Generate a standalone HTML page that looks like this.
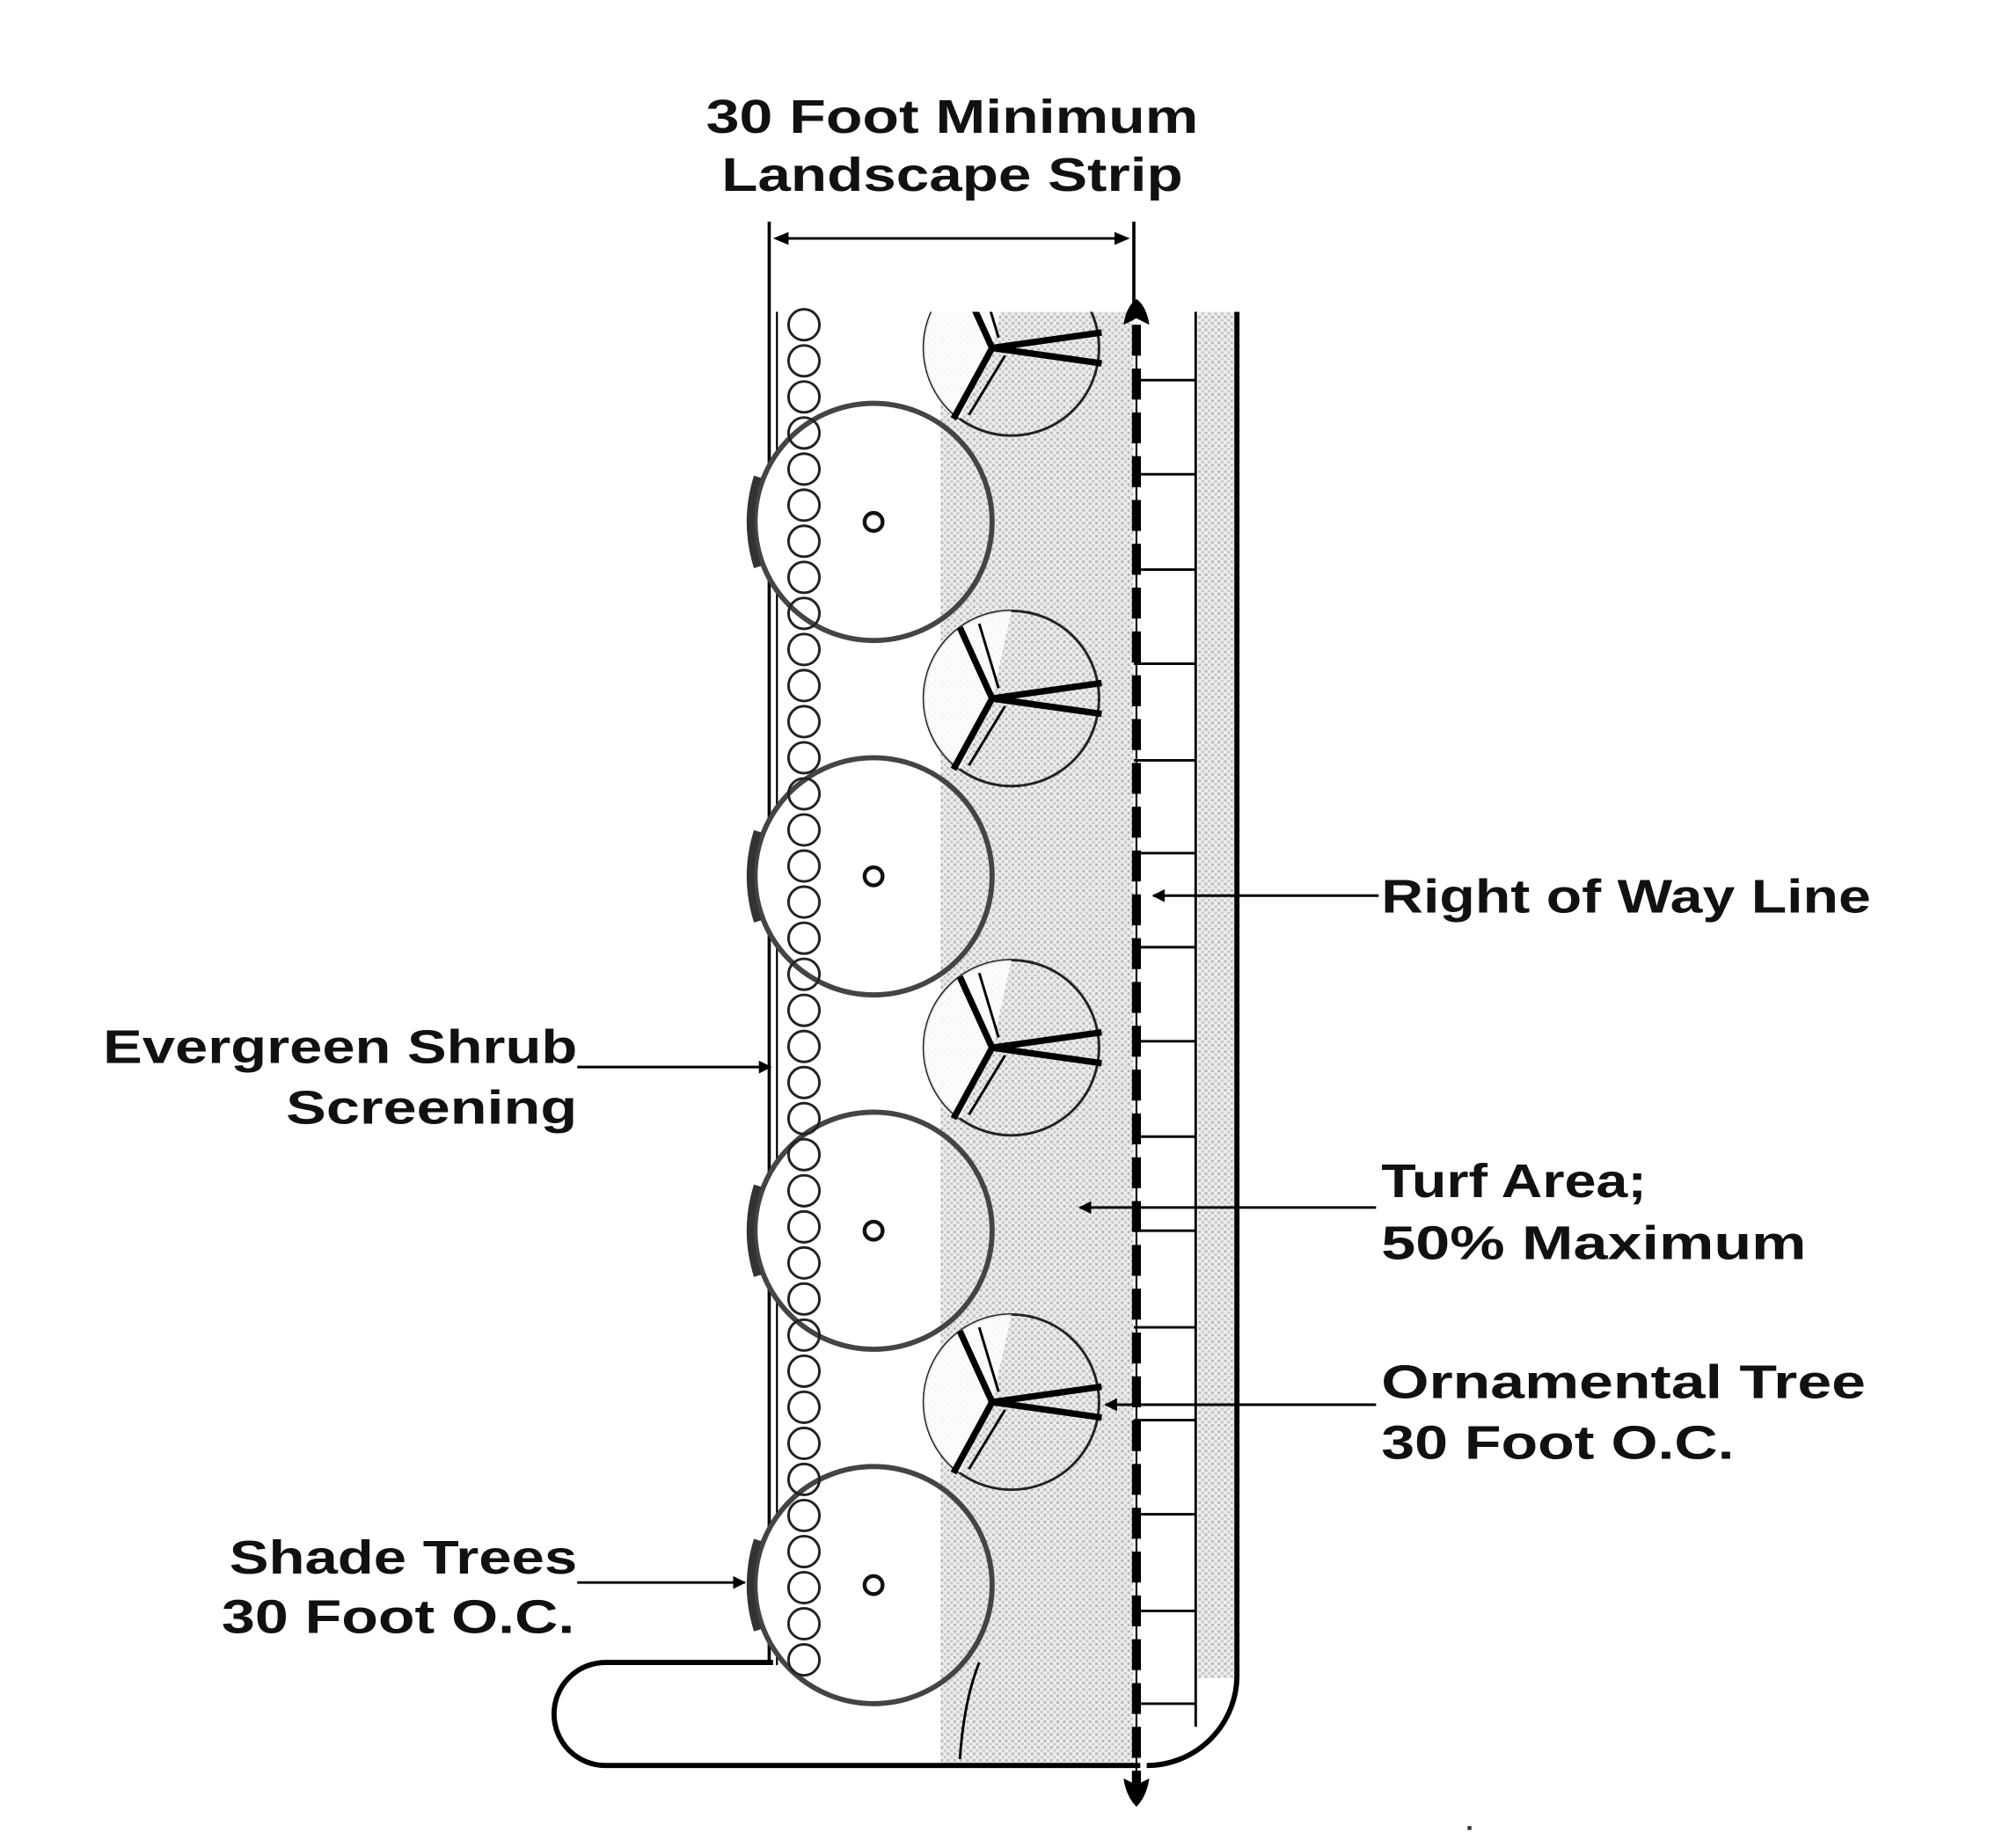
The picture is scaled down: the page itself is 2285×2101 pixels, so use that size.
<!DOCTYPE html>
<html><head><meta charset="utf-8"><style>html,body{margin:0;padding:0;background:#fff}svg{display:block}</style></head>
<body>
<svg width="2285" height="2101" viewBox="0 0 1560 1434" preserveAspectRatio="none" xmlns="http://www.w3.org/2000/svg">
<defs>
<pattern id="st" width="5" height="5" patternUnits="userSpaceOnUse">
<rect width="5" height="5" fill="#ececec"/><rect x="0" y="0" width="2" height="2" fill="#b8b8b8"/><rect x="2.5" y="2.5" width="2" height="2" fill="#c8c8c8"/>
</pattern>
<marker id="ah" markerWidth="10" markerHeight="10" refX="9" refY="5" orient="auto" markerUnits="userSpaceOnUse"><path d="M0,0 L10,5 L0,10 z" fill="#000"/></marker>
<clipPath id="cl"><rect x="0" y="242" width="1560" height="1200"/></clipPath>
</defs>
<g font-family="'Liberation Sans',sans-serif" font-weight="bold" font-size="37" fill="#111">
<text x="548" y="103" textLength="382" lengthAdjust="spacingAndGlyphs">30 Foot Minimum</text>
<text x="560" y="148" textLength="358" lengthAdjust="spacingAndGlyphs">Landscape Strip</text>
<text x="1072" y="708" textLength="380" lengthAdjust="spacingAndGlyphs">Right of Way Line</text>
<text x="80" y="825" textLength="368" lengthAdjust="spacingAndGlyphs">Evergreen Shrub</text>
<text x="222" y="872" textLength="226" lengthAdjust="spacingAndGlyphs">Screening</text>
<text x="1072" y="929" textLength="206" lengthAdjust="spacingAndGlyphs">Turf Area;</text>
<text x="1072" y="977" textLength="330" lengthAdjust="spacingAndGlyphs">50% Maximum</text>
<text x="1072" y="1085" textLength="376" lengthAdjust="spacingAndGlyphs">Ornamental Tree</text>
<text x="1072" y="1132" textLength="274" lengthAdjust="spacingAndGlyphs">30 Foot O.C.</text>
<text x="178" y="1221" textLength="270" lengthAdjust="spacingAndGlyphs">Shade Trees</text>
<text x="172" y="1267" textLength="274" lengthAdjust="spacingAndGlyphs">30 Foot O.C.</text>
</g>
<!-- turf -->
<rect x="730" y="242" width="150" height="1128" fill="url(#st)"/>
<rect x="930" y="242" width="30" height="1060" fill="url(#st)"/>
<!-- dimension -->
<line x1="597" y1="172" x2="597" y2="1292" stroke="#000" stroke-width="2.5"/>
<line x1="603" y1="242" x2="603" y2="1292" stroke="#000" stroke-width="1.5"/>
<line x1="880" y1="172" x2="880" y2="242" stroke="#000" stroke-width="2.5"/>
<line x1="610" y1="185" x2="868" y2="185" stroke="#000" stroke-width="2"/>
<path d="M600,185 l12,-5 v10 z M877,185 l-12,-5 v10 z" fill="#000"/>
<!-- road -->
<path d="M600,1290 H470 A40,40 0 0 0 470,1370 H885" fill="none" stroke="#000" stroke-width="4"/>
<path d="M960,242 V1300 A70,70 0 0 1 890,1370" fill="none" stroke="#000" stroke-width="4"/>
<line x1="928" y1="242" x2="928" y2="1340" stroke="#000" stroke-width="2"/>
<path d="M745,1365 Q748,1320 760,1290" fill="none" stroke="#000" stroke-width="2"/>
<!-- ticks -->
<g stroke="#000" stroke-width="2">
<line x1="880" y1="295" x2="928" y2="295"/><line x1="880" y1="368" x2="928" y2="368"/><line x1="880" y1="442" x2="928" y2="442"/><line x1="880" y1="515" x2="928" y2="515"/><line x1="880" y1="590" x2="928" y2="590"/><line x1="880" y1="662" x2="928" y2="662"/><line x1="880" y1="735" x2="928" y2="735"/><line x1="880" y1="808" x2="928" y2="808"/><line x1="880" y1="882" x2="928" y2="882"/><line x1="880" y1="955" x2="928" y2="955"/><line x1="880" y1="1030" x2="928" y2="1030"/><line x1="880" y1="1102" x2="928" y2="1102"/><line x1="880" y1="1175" x2="928" y2="1175"/><line x1="880" y1="1250" x2="928" y2="1250"/><line x1="880" y1="1322" x2="928" y2="1322"/>
</g>
<!-- ornamental trees -->
<g clip-path="url(#cl)">
<g id="orn">
<circle cx="785" cy="270" r="68" fill="url(#st)" stroke="#222" stroke-width="2"/>
<path d="M785,202 A68,68 0 0 0 745,325 L770,270 Z" fill="#fff" opacity=".85"/>
<g stroke="#000" stroke-width="5" fill="none"><path d="M770,270 L745,215 M770,270 L740,325 M770,270 L855,258 M770,270 L855,282"/></g>
<g stroke="#000" stroke-width="2" fill="none"><path d="M760,212 L775,262 M752,322 L780,276"/></g>
</g>
</g>
<use href="#orn" y="272"/><use href="#orn" y="543"/><use href="#orn" y="818"/>
<!-- shade trees -->
<g id="sh" fill="none">
<path d="M680,313 A92,92 0 0 0 680,497 L730,490 Q720,405 730,320 Z" fill="#fff"/>
<circle cx="678" cy="405" r="92" stroke="#444" stroke-width="4"/>
<path d="M588,370 Q577,405 588,440" stroke="#333" stroke-width="6"/>
<circle cx="678" cy="405" r="7" stroke="#111" stroke-width="3"/>
</g>
<use href="#sh" y="275"/><use href="#sh" y="550"/><use href="#sh" y="825"/>
<!-- shrubs -->
<g fill="none" stroke="#222" stroke-width="2">
<circle cx="624" cy="252" r="12"/><circle cx="624" cy="280" r="12"/><circle cx="624" cy="308" r="12"/><circle cx="624" cy="336" r="12"/><circle cx="624" cy="364" r="12"/><circle cx="624" cy="392" r="12"/><circle cx="624" cy="420" r="12"/><circle cx="624" cy="448" r="12"/><circle cx="624" cy="476" r="12"/><circle cx="624" cy="504" r="12"/><circle cx="624" cy="532" r="12"/><circle cx="624" cy="560" r="12"/><circle cx="624" cy="588" r="12"/><circle cx="624" cy="616" r="12"/><circle cx="624" cy="644" r="12"/><circle cx="624" cy="672" r="12"/><circle cx="624" cy="700" r="12"/><circle cx="624" cy="728" r="12"/><circle cx="624" cy="756" r="12"/><circle cx="624" cy="784" r="12"/><circle cx="624" cy="812" r="12"/><circle cx="624" cy="840" r="12"/><circle cx="624" cy="868" r="12"/><circle cx="624" cy="896" r="12"/><circle cx="624" cy="924" r="12"/><circle cx="624" cy="952" r="12"/><circle cx="624" cy="980" r="12"/><circle cx="624" cy="1008" r="12"/><circle cx="624" cy="1036" r="12"/><circle cx="624" cy="1064" r="12"/><circle cx="624" cy="1092" r="12"/><circle cx="624" cy="1120" r="12"/><circle cx="624" cy="1148" r="12"/><circle cx="624" cy="1176" r="12"/><circle cx="624" cy="1204" r="12"/><circle cx="624" cy="1232" r="12"/><circle cx="624" cy="1260" r="12"/><circle cx="624" cy="1288" r="12"/>
</g>
<!-- ROW -->
<line x1="882" y1="252" x2="882" y2="1385" stroke="#000" stroke-width="7" stroke-dasharray="24,10"/>
<line x1="882" y1="252" x2="882" y2="1385" stroke="#000" stroke-width="1.5"/>
<path d="M872,252 Q874,238 882,232 Q890,238 892,252 L882,247 Z" fill="#000"/>
<path d="M872,1380 Q874,1394 882,1402 Q890,1394 892,1380 L882,1385 Z" fill="#000"/>
<!-- leaders -->
<g stroke="#000" stroke-width="2" fill="none" marker-end="url(#ah)">
<line x1="1070" y1="695" x2="895" y2="695"/>
<line x1="448" y1="828" x2="598" y2="828"/>
<line x1="1068" y1="937" x2="838" y2="937"/>
<line x1="1068" y1="1090" x2="858" y2="1090"/>
<line x1="448" y1="1228" x2="578" y2="1228"/>
</g>
<rect x="1139" y="1417" width="3" height="3" fill="#333"/>
</svg>
</body></html>
